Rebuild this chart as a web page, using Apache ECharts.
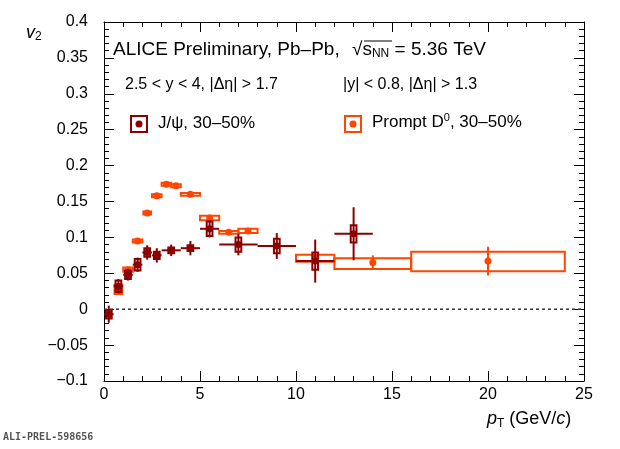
<!DOCTYPE html>
<html>
<head>
<meta charset="utf-8">
<script src="https://cdn.jsdelivr.net/npm/echarts@6/dist/echarts.min.js"></script>
</head>
<body style="margin:0">
<div id="main" style="width:620px;height:449px;"></div>
<script>
// J/psi: pT, v2, x half-width, stat error, syst
var jpsiPt = [0.25, 0.75, 1.25, 1.75, 2.25, 2.75, 3.5, 4.5, 5.5, 7, 9, 11, 13];
var jpsiV2 = [-0.007, 0.032, 0.048, 0.062, 0.079, 0.075, 0.082, 0.085, 0.112, 0.09, 0.088, 0.067, 0.105];
var jpsiXerr = [0.25, 0.25, 0.25, 0.25, 0.25, 0.25, 0.5, 0.5, 0.5, 1, 1, 1, 1];
var jpsiStat = [0.012, 0.01, 0.008, 0.01, 0.01, 0.01, 0.008, 0.01, 0.012, 0.015, 0.018, 0.03, 0.037];
var jpsiSyst = [0.006, 0.008, 0.006, 0.008, 0.006, 0.005, 0.004, 0.004, 0.01, 0.01, 0.01, 0.012, 0.012];
// Prompt D0
var dPt = [0.75, 1.25, 1.75, 2.25, 2.75, 3.25, 3.75, 4.5, 5.5, 6.5, 7.5, 11, 14, 20];
var dV2 = [0.028, 0.055, 0.095, 0.134, 0.158, 0.174, 0.172, 0.16, 0.127, 0.107, 0.109, 0.072, 0.065, 0.067];
var dStat = [0.004, 0.003, 0.003, 0.003, 0.003, 0.002, 0.002, 0.003, 0.003, 0.003, 0.003, 0.005, 0.01, 0.02];
var dSystLo = [0.007, 0.003, 0.002, 0.002, 0.002, 0.002, 0.002, 0.002, 0.003, 0.002, 0.003, 0.006, 0.009, 0.014];
var dSystHi = [0.006, 0.003, 0.002, 0.002, 0.002, 0.002, 0.002, 0.002, 0.003, 0.002, 0.003, 0.004, 0.006, 0.013];
var dBoxHalf = [0.2, 0.25, 0.25, 0.2, 0.25, 0.25, 0.25, 0.5, 0.5, 0.5, 0.5, 1, 2, 4];

var JC = '#8b0000', DC = '#ff4500';

function makeData(pt, v2, xe, st, slo, shi, bh) {
  return pt.map(function (x, i) {
    return [x, v2[i], xe[i], st[i], slo[i], shi[i], bh[i]];
  });
}

function renderer(color) {
  return function (params, api) {
    var x = api.value(0), y = api.value(1), xe = api.value(2), st = api.value(3);
    var slo = api.value(4), shi = api.value(5), bh = api.value(6);
    var c = api.coord([x, y]);
    var l = api.coord([x - xe, y]), r = api.coord([x + xe, y]);
    var t = api.coord([x, y + st]), b = api.coord([x, y - st]);
    var bl = api.coord([x - bh, y + shi]), br = api.coord([x + bh, y - slo]);
    var ls = {stroke: color, lineWidth: 2};
    var kids = [
      {type: 'rect', shape: {x: bl[0], y: bl[1], width: br[0] - bl[0], height: br[1] - bl[1]},
        style: {fill: 'none', stroke: color, lineWidth: 2}},
      {type: 'line', shape: {x1: c[0], y1: t[1], x2: c[0], y2: b[1]}, style: ls},
      {type: 'circle', shape: {cx: c[0], cy: c[1], r: 3.5}, style: {fill: color}}
    ];
    if (xe > 0) kids.push({type: 'line', shape: {x1: l[0], y1: c[1], x2: r[0], y2: c[1]}, style: ls});
    return {type: 'group', children: kids};
  };
}

var tickStyle = {
  axisLine: {onZero: false, lineStyle: {color: '#000'}},
  axisTick: {inside: true, length: 10, lineStyle: {color: '#000'}},
  minorTick: {show: true, splitNumber: 5, length: 5, lineStyle: {color: '#000'}},
  splitLine: {show: false}
};
function ax(extra) { return Object.assign({}, tickStyle, extra); }

var chart = echarts.init(document.getElementById('main'));
chart.setOption({
  animation: false,
  backgroundColor: '#fff',
  grid: {left: 104, right: 36, top: 22, bottom: 68},
  xAxis: [
    ax({type: 'value', min: 0, max: 25, interval: 5, position: 'bottom',
      axisLabel: {color: '#000', fontSize: 16, fontFamily: 'Liberation Sans', margin: 6}}),
    ax({type: 'value', min: 0, max: 25, interval: 5, position: 'top', axisLabel: {show: false}})
  ],
  yAxis: [
    ax({type: 'value', min: -0.1, max: 0.4, interval: 0.05, position: 'left',
      axisLabel: {color: '#000', fontSize: 16, fontFamily: 'Liberation Sans', margin: 16,
        formatter: function (v) { return Math.abs(v) < 1e-9 ? '0' : (v < 0 ? '\u2212' + (-v) : String(v)); }}}),
    ax({type: 'value', min: -0.1, max: 0.4, interval: 0.05, position: 'right', axisLabel: {show: false}})
  ],
  series: [
    {type: 'line', data: [[0, 0], [25, 0]], symbol: 'none', silent: true,
      lineStyle: {color: '#333', type: [3, 3], width: 1.5}},
    {type: 'custom', data: makeData(dPt, dV2, dPt.map(function () { return 0; }), dStat, dSystLo, dSystHi, dBoxHalf),
      renderItem: renderer(DC), encode: {x: 0, y: 1}, z: 2},
    {type: 'custom', data: makeData(jpsiPt, jpsiV2, jpsiXerr, jpsiStat, jpsiSyst, jpsiSyst, jpsiPt.map(function () { return 0.15; })),
      renderItem: renderer(JC), encode: {x: 0, y: 1}, z: 3}
  ],
  graphic: [
    {type: 'text', left: 113, top: 40, style: {text: 'ALICE Preliminary, Pb\u2013Pb,', fontSize: 19, fontFamily: 'Liberation Sans', fill: '#000'}},
    {type: 'text', left: 352, top: 40, style: {rich: {a: {fontSize: 19, fontFamily: 'Liberation Sans'}, s: {fontSize: 12, fontFamily: 'Liberation Sans', padding: [8, 0, 0, 0]}},
      text: '{a|\u221As}{s|NN}{a| = 5.36 TeV}', fill: '#000'}},
    {type: 'line', shape: {x1: 364, y1: 41, x2: 392, y2: 41}, style: {stroke: '#000', lineWidth: 1}},
    {type: 'text', left: 125, top: 77, style: {text: '2.5 < y < 4, |\u0394\u03b7| > 1.7', fontSize: 16, fontFamily: 'Liberation Sans', fill: '#000'}},
    {type: 'text', left: 343, top: 77, style: {text: '|y| < 0.8, |\u0394\u03b7| > 1.3', fontSize: 16, fontFamily: 'Liberation Sans', fill: '#000'}},
    {type: 'rect', shape: {x: 131, y: 116, width: 16, height: 16}, style: {fill: 'none', stroke: JC, lineWidth: 2}},
    {type: 'circle', shape: {cx: 139, cy: 124, r: 3.5}, style: {fill: JC}},
    {type: 'text', left: 158, top: 115, style: {text: 'J/\u03c8, 30\u201350%', fontSize: 17, fontFamily: 'Liberation Sans', fill: '#000'}},
    {type: 'rect', shape: {x: 345, y: 116, width: 16, height: 16}, style: {fill: 'none', stroke: DC, lineWidth: 2}},
    {type: 'circle', shape: {cx: 353, cy: 124, r: 3.5}, style: {fill: DC}},
    {type: 'text', left: 372, top: 112, style: {rich: {a: {fontSize: 17, fontFamily: 'Liberation Sans'}, s: {fontSize: 11, fontFamily: 'Liberation Sans', padding: [0, 0, 10, 0]}},
      text: '{a|Prompt D}{s|0}{a|, 30\u201350%}'}},
    {type: 'text', left: 26, top: 24, style: {rich: {a: {fontSize: 18, fontStyle: 'italic', fontFamily: 'Liberation Sans'}, s: {fontSize: 12, fontFamily: 'Liberation Sans', padding: [8, 0, 0, 0]}},
      text: '{a|v}{s|2}'}},
    {type: 'text', left: 487, top: 410, style: {rich: {a: {fontSize: 18, fontStyle: 'italic', fontFamily: 'Liberation Sans'}, s: {fontSize: 12, fontFamily: 'Liberation Sans', padding: [10, 0, 0, 0]}, n: {fontSize: 18, fontFamily: 'Liberation Sans'}},
      text: '{a|p}{s|T}{n| (GeV/}{a|c}{n|)}'}},
    {type: 'text', left: 3, top: 432, style: {text: 'ALI-PREL-598656', fontSize: 10, fontWeight: 'bold', fontFamily: 'DejaVu Sans Mono', fill: '#555'}}
  ]
});
</script>
</body>
</html>
